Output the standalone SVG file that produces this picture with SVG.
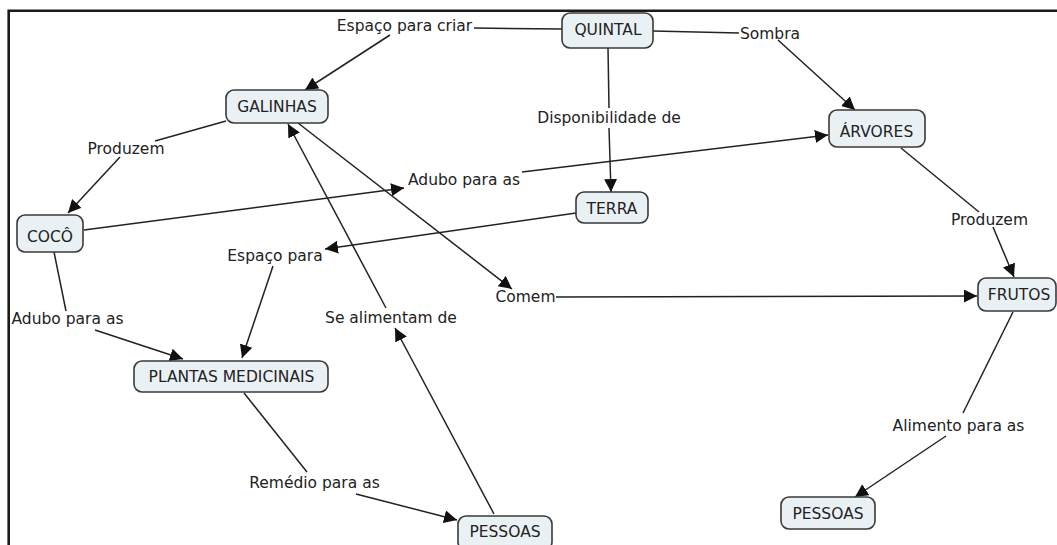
<svg xmlns="http://www.w3.org/2000/svg" width="1057" height="545" viewBox="0 0 1057 545">
  <style>
    .node rect { fill: #eaf1f5; stroke: #3a3a3a; stroke-width: 1.6; }
    text { font-family: "DejaVu Sans", Verdana, sans-serif; font-size: 15.5px; fill: #222; text-anchor: middle; }
    .links line { stroke: #222; stroke-width: 1.5; }
    .frame { stroke: #1a1a1a; stroke-width: 2.6; fill: none; }
  </style>
  <defs>
    <marker id="arrow" markerUnits="userSpaceOnUse" markerWidth="14" markerHeight="14" refX="13" refY="6.5" orient="auto">
      <path d="M0,0 L13,6.5 L0,13 z" fill="#111"/>
    </marker>
  </defs>

  <rect width="1057" height="545" fill="#fff"/>
  <!-- page frame: top and left edges only -->
  <path class="frame" d="M8.7,545 V10.7 H1057"/>

  <!-- connectors -->
  <g class="links">
    <line x1="562" y1="29" x2="474" y2="28"/>
    <line x1="390" y1="35" x2="305" y2="90" marker-end="url(#arrow)"/>
    <line x1="653" y1="31" x2="739" y2="33"/>
    <line x1="778" y1="40" x2="855" y2="110" marker-end="url(#arrow)"/>
    <line x1="608" y1="48" x2="609" y2="108"/>
    <line x1="609" y1="128" x2="611" y2="192" marker-end="url(#arrow)"/>
    <line x1="226" y1="121" x2="155" y2="141"/>
    <line x1="120" y1="157" x2="68" y2="213" marker-end="url(#arrow)"/>
    <line x1="84" y1="230" x2="404" y2="188" marker-end="url(#arrow)"/>
    <line x1="522" y1="172" x2="828" y2="135" marker-end="url(#arrow)"/>
    <line x1="576" y1="213" x2="325" y2="249" marker-end="url(#arrow)"/>
    <line x1="273" y1="266" x2="242" y2="358" marker-end="url(#arrow)"/>
    <line x1="54" y1="252" x2="66" y2="311"/>
    <line x1="95" y1="330" x2="183" y2="359" marker-end="url(#arrow)"/>
    <line x1="298" y1="123" x2="512" y2="289" marker-end="url(#arrow)"/>
    <line x1="556" y1="297" x2="977" y2="296" marker-end="url(#arrow)"/>
    <line x1="901" y1="148" x2="979" y2="212"/>
    <line x1="993" y1="227" x2="1014" y2="277" marker-end="url(#arrow)"/>
    <line x1="1013" y1="312" x2="963" y2="413"/>
    <line x1="946" y1="436" x2="855" y2="497" marker-end="url(#arrow)"/>
    <line x1="244" y1="393" x2="307" y2="472"/>
    <line x1="356" y1="494" x2="457" y2="520" marker-end="url(#arrow)"/>
    <line x1="494" y1="514" x2="395" y2="328" marker-end="url(#arrow)"/>
    <line x1="386" y1="308" x2="288" y2="124" marker-end="url(#arrow)"/>
  </g>

  <!-- link phrases -->
  <g id="labels">
    <text x="404.5" y="31">Espaço para criar</text>
    <text x="770" y="39">Sombra</text>
    <text x="609" y="123">Disponibilidade de</text>
    <text x="126" y="154">Produzem</text>
    <text x="464" y="185">Adubo para as</text>
    <text x="275" y="261">Espaço para</text>
    <text x="67.5" y="324">Adubo para as</text>
    <text x="391" y="323">Se alimentam de</text>
    <text x="525.5" y="302">Comem</text>
    <text x="989.5" y="225">Produzem</text>
    <text x="314.5" y="488">Remédio para as</text>
    <text x="958.5" y="431">Alimento para as</text>
  </g>

  <!-- concepts -->
  <g id="quintal" class="node"><rect x="562" y="13" width="91" height="35" rx="8"/><text x="608" y="35">QUINTAL</text></g>
  <g id="galinhas" class="node"><rect x="226" y="90" width="102" height="33" rx="8"/><text x="277" y="112">GALINHAS</text></g>
  <g id="arvores" class="node"><rect x="829" y="110" width="96" height="37" rx="8"/><text x="876.5" y="137">ÁRVORES</text></g>
  <g id="terra" class="node"><rect x="576" y="192" width="72" height="31" rx="8"/><text x="612" y="214">TERRA</text></g>
  <g id="coco" class="node"><rect x="17" y="215" width="66" height="37" rx="8"/><text x="50" y="242">COCÔ</text></g>
  <g id="frutos" class="node"><rect x="978" y="278" width="78" height="33" rx="8"/><text x="1019" y="300">FRUTOS</text></g>
  <g id="plantas" class="node"><rect x="134" y="361" width="194" height="31" rx="8"/><text x="231.5" y="382">PLANTAS MEDICINAIS</text></g>
  <g id="pessoas1" class="node"><rect x="458" y="516" width="94" height="34" rx="8"/><text x="505" y="537">PESSOAS</text></g>
  <g id="pessoas2" class="node"><rect x="781" y="497" width="94" height="32" rx="8"/><text x="828" y="519">PESSOAS</text></g>
</svg>
